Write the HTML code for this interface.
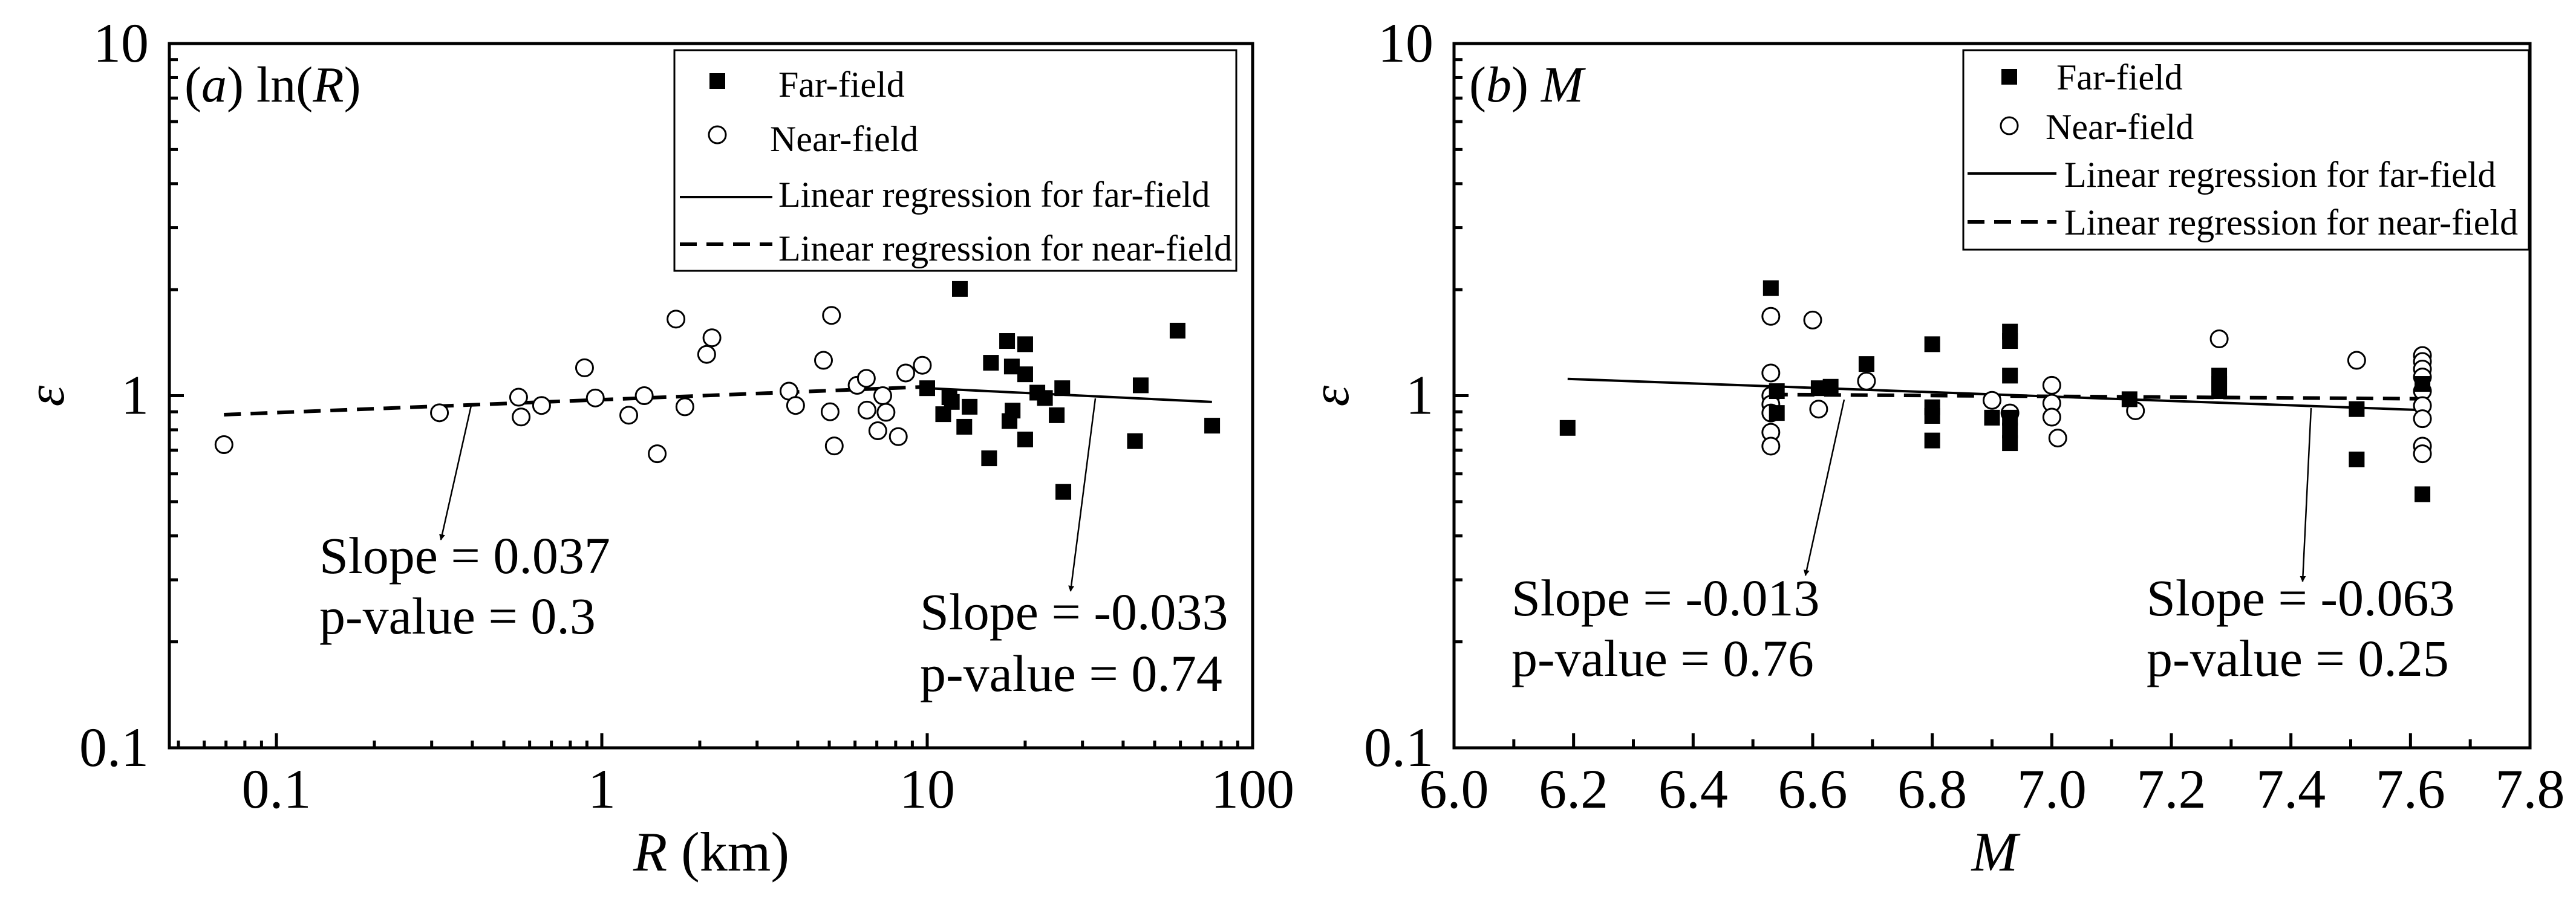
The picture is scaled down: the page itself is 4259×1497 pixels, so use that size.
<!DOCTYPE html>
<html><head><meta charset="utf-8"><style>
html,body{margin:0;padding:0;background:#fff;}
svg{display:block;font-family:"Liberation Serif",serif;}
</style></head><body>
<svg id="c" width="4259" height="1497" viewBox="0 0 4259 1497" xmlns="http://www.w3.org/2000/svg">
<defs><marker id="ah" markerWidth="10" markerHeight="10" refX="9" refY="5" orient="auto" markerUnits="userSpaceOnUse"><path d="M0,0 L10,5 L0,10 L3,5 Z" fill="#000" transform="scale(2.2) translate(-5.5,-2.7)"/></marker></defs>
</svg>
<script>
// Panel (a) data
const aFarR = [12.6,58.8,17.6,20.0,15.7,18.2,20.0,10.0,11.7,11.9,26.0,45.3,21.8,23.0,13.5,11.2,18.3,17.9,25.0,13.0,75.1,43.5,20.0,15.5,26.2];
const aFarE = [2.01,1.53,1.43,1.40,1.24,1.21,1.15,1.05,0.99,0.96,1.05,1.07,1.02,0.985,0.93,0.886,0.907,0.847,0.88,0.816,0.822,0.743,0.751,0.664,0.533];
const aNearR = [0.069,0.317,0.555,0.565,0.653,0.885,0.955,1.21,1.35,1.48,1.69,1.80,2.10,2.18,3.76,3.94,4.80,5.03,5.08,5.18,6.09,6.50,6.53,7.05,7.30,7.47,8.15,8.59,9.66];
const aNearE = [0.726,0.894,0.99,0.87,0.938,1.20,0.985,0.88,1.0,0.684,1.65,0.93,1.31,1.46,1.03,0.938,1.26,0.90,1.69,0.72,1.07,1.12,0.91,0.795,1.0,0.897,0.765,1.16,1.22];
const aFarFitX = [10, 75];
const aFarFitE = [1.05, 0.96];
const aNearFitX = [0.069, 10];
const aNearFitE = [0.883, 1.06];
const aXTicks = [0.1, 1, 10, 100];
const aXTickLabels = ["0.1","1","10","100"];
// Panel (b) data
const bFarM = [6.19,6.53,6.54,6.54,6.61,6.63,6.69,6.80,6.80,6.80,6.80,6.90,6.93,6.93,6.93,6.93,6.93,6.93,7.13,7.28,7.28,7.28,7.51,7.51,7.62,7.62];
const bFarE = [0.81,2.02,0.893,1.03,1.05,1.06,1.23,1.40,0.927,0.876,0.746,0.866,1.52,1.43,1.14,0.866,0.796,0.733,0.977,1.14,1.08,1.03,0.916,0.659,1.08,0.525];
const bNearM = [6.53,6.53,6.53,6.53,6.53,6.53,6.53,6.60,6.61,6.69,6.90,6.93,7.00,7.00,7.00,7.01,7.14,7.28,7.51,7.62,7.62,7.62,7.62,7.62,7.62,7.62,7.62,7.62];
const bNearE = [1.68,1.16,1.0,0.945,0.893,0.787,0.719,1.64,0.916,1.10,0.97,0.893,1.07,0.952,0.869,0.758,0.906,1.45,1.26,1.30,1.25,1.19,1.13,1.03,0.937,0.86,0.719,0.684];
const bFarFitM = [6.19, 7.62];
const bFarFitE = [1.116, 0.91];
const bNearFitM = [6.53, 7.62];
const bNearFitE = [1.0077, 0.98];
const bXTicks = [6.0,6.2,6.4,6.6,6.8,7.0,7.2,7.4,7.6,7.8];
const bXTickLabels = ["6.0","6.2","6.4","6.6","6.8","7.0","7.2","7.4","7.6","7.8"];
const yTicks = [0.1, 1, 10];
const yTickLabels = ["0.1","1","10"];

const svg = document.getElementById('c');
const NS = 'http://www.w3.org/2000/svg';
function mk(tag, attrs, parent){const e=document.createElementNS(NS,tag);for(const k in attrs)e.setAttribute(k,attrs[k]);(parent||svg).appendChild(e);return e;}

const TOP=72, BOT=1237;
function yS(e){return BOT-(Math.log10(e)+1)*(BOT-TOP)/2;}
const aL=280,aR=2071;
function xA(r){return 457+(Math.log10(r)+1)*538;}
const bL=2404,bR=4183;
function xB(m){return bL+(m-6)/1.8*(bR-bL);}

function frame(g,L,R){
  const r=mk('rect',{x:L,y:TOP,width:R-L,height:BOT-TOP,fill:'none',stroke:'#000','stroke-width':5},g);
  
  
  for(let d=-1; d<1; d++){
    for(let k=2;k<10;k++){
      const v=k*Math.pow(10,d); const y=yS(v);
      const t=mk('line',{x1:L,x2:L+14,y1:y,y2:y,stroke:'#000','stroke-width':5},g);
      
      
    }
  }
  yTicks.forEach((v,i)=>{
    const y=yS(v);
    const t=mk('line',{x1:L,x2:L+24,y1:y,y2:y,stroke:'#000','stroke-width':5},g);
    
    
    const tx=mk('text',{x:L-34,y:y+30,'font-size':92,'text-anchor':'end'},g);
    tx.textContent=yTickLabels[i];
    
    
  });
  const yt=mk('text',{x:0,y:0,'font-size':88,'font-style':'italic','text-anchor':'middle',transform:`translate(${L-175},655) rotate(-90)`},g);
  yt.textContent='ε';
  
  
}
function sq(g,x,y){const r=mk('rect',{x:x-13,y:y-13,width:26,height:26,fill:'#000'},g);}
function ci(g,x,y){const c=mk('circle',{cx:x,cy:y,r:14,fill:'#fff',stroke:'#000','stroke-width':3},g);}
function line(g,x1,y1,x2,y2,dash,name){const l=mk('line',{x1,y1,x2,y2,stroke:'#000','stroke-width':dash?6:4},g);if(dash)l.setAttribute('stroke-dasharray','28 16');}
function txt(g,x,y,s,size,name,style){const t=mk('text',{x,y,'font-size':size},g);if(style)t.setAttribute('font-style',style);t.textContent=s;return t;}
function arrow(g,x1,y1,x2,y2){const l=mk('line',{x1,y1,x2,y2,stroke:'#000','stroke-width':2.5,'marker-end':'url(#ah)'},g);}
function legend(g,x,y,w,h,rows,lineX1,lineX2){
  const b=mk('rect',{x,y,width:w,height:h,fill:'#fff',stroke:'#000','stroke-width':3},g);
  
  rows.forEach(r=>{
    const lg=mk('g',{},g);
    
    
    if(r.t==='sq') sq(lg,r.mx,r.my);
    else if(r.t==='ci') ci(lg,r.mx,r.my);
    else line(lg,lineX1,r.my,lineX2,r.my,r.t==='dash','legend-line');
    txt(lg,r.tx,r.ty,r.s,60,'legend-label');
  });
}

// Panel a
const ga=mk('g',{});


frame(ga,aL,aR);
for(let d=-2; d<2; d++){
  for(let k=2;k<10;k++){
    const v=k*Math.pow(10,d); const x=xA(v); if(x<aL+2||x>aR-2) continue;
    const t=mk('line',{x1:x,x2:x,y1:BOT,y2:BOT-12,stroke:'#000','stroke-width':5},ga);
    
    
  }
}
aXTicks.forEach((v,i)=>{
  const x=xA(v);
  const t=mk('line',{x1:x,x2:x,y1:BOT,y2:BOT-24,stroke:'#000','stroke-width':5},ga);
  
  
  const tx=mk('text',{x:x,y:1336,'font-size':92,'text-anchor':'middle'},ga);
  tx.textContent=aXTickLabels[i];
  
  
});
{const t=mk('text',{x:1176,y:1440,'font-size':92,'text-anchor':'middle'},ga);t.innerHTML='<tspan font-style="italic">R</tspan> (km)';}
{const t=mk('text',{x:305,y:168,'font-size':84},ga);t.innerHTML='(<tspan font-style="italic">a</tspan>) ln(<tspan font-style="italic">R</tspan>)';}
line(ga,xA(aNearFitX[0]),yS(aNearFitE[0]),xA(aNearFitX[1]),yS(aNearFitE[1]),true,'near-field-regression');
line(ga,xA(aFarFitX[0]),yS(aFarFitE[0]),xA(aFarFitX[1]),yS(aFarFitE[1]),false,'far-field-regression');
aNearR.forEach((r,i)=>ci(ga,xA(r),yS(aNearE[i])));
aFarR.forEach((r,i)=>sq(ga,xA(r),yS(aFarE[i])));
legend(ga,1115,83,929,365,[
 {t:'sq',mx:1186,my:134,tx:1287,ty:160,s:'Far-field'},
 {t:'ci',mx:1186,my:223,tx:1273,ty:250,s:'Near-field'},
 {t:'solid',my:326,tx:1287,ty:342,s:'Linear regression for far-field'},
 {t:'dash',my:404,tx:1287,ty:431,s:'Linear regression for near-field'}],1124,1277);
arrow(ga,779,671,729,893);
arrow(ga,1811,659,1770,978);
txt(ga,528,948,'Slope = 0.037',86,'near-slope-label');
txt(ga,528,1048,'p-value = 0.3',86,'near-pvalue-label');
txt(ga,1521,1041,'Slope = -0.033',86,'far-slope-label');
txt(ga,1521,1143,'p-value = 0.74',86,'far-pvalue-label');

// Panel b
const gb=mk('g',{});


frame(gb,bL,bR);
bXTicks.forEach((v,i)=>{
  const x=xB(v);
  const t=mk('line',{x1:x,x2:x,y1:BOT,y2:BOT-24,stroke:'#000','stroke-width':5},gb);
  
  
  if(i<bXTicks.length-1){
    const xm=xB(v+0.1);
    const m=mk('line',{x1:xm,x2:xm,y1:BOT,y2:BOT-14,stroke:'#000','stroke-width':5},gb);
    
    
  }
  const tx=mk('text',{x:x,y:1336,'font-size':92,'text-anchor':'middle'},gb);
  tx.textContent=bXTickLabels[i];
  
  
});
{const t=mk('text',{x:3298,y:1440,'font-size':92,'text-anchor':'middle','font-style':'italic'},gb);t.textContent='M';}
{const t=mk('text',{x:2429,y:168,'font-size':84},gb);t.innerHTML='(<tspan font-style="italic">b</tspan>) <tspan font-style="italic">M</tspan>';}
line(gb,xB(bNearFitM[0]),yS(bNearFitE[0]),xB(bNearFitM[1]),yS(bNearFitE[1]),true,'near-field-regression');
line(gb,xB(bFarFitM[0]),yS(bFarFitE[0]),xB(bFarFitM[1]),yS(bFarFitE[1]),false,'far-field-regression');
bNearM.forEach((m,i)=>ci(gb,xB(m),yS(bNearE[i])));
bFarM.forEach((m,i)=>sq(gb,xB(m),yS(bFarE[i])));
legend(gb,3246,83,935,330,[
 {t:'sq',mx:3322,my:127,tx:3400,ty:148,s:'Far-field'},
 {t:'ci',mx:3322,my:208,tx:3382,ty:230,s:'Near-field'},
 {t:'solid',my:287,tx:3413,ty:309,s:'Linear regression for far-field'},
 {t:'dash',my:367,tx:3413,ty:388,s:'Linear regression for near-field'}],3253,3400);
arrow(gb,3049,661,2985,952);
arrow(gb,3821,675,3807,962);
txt(gb,2499,1018,'Slope = -0.013',86,'near-slope-label');
txt(gb,2499,1118,'p-value = 0.76',86,'near-pvalue-label');
txt(gb,3549,1018,'Slope = -0.063',86,'far-slope-label');
txt(gb,3549,1118,'p-value = 0.25',86,'far-pvalue-label');
</script>
</body></html>
